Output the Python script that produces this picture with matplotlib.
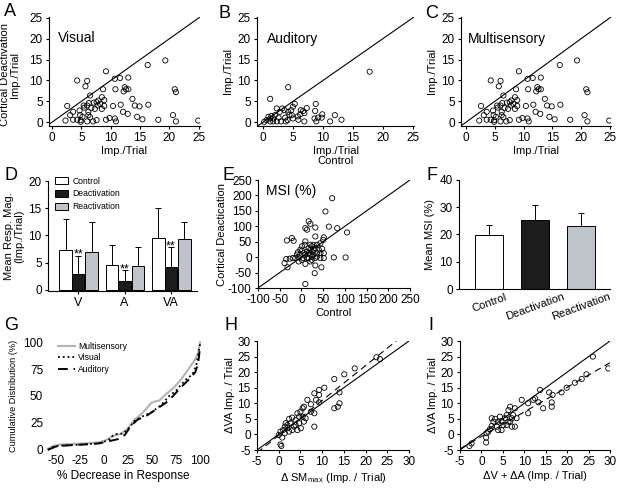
import matplotlib
matplotlib.use("Agg")
import matplotlib.pyplot as plt
from matplotlib.patches import Patch

plt.rcParams['font.family'] = ['Liberation Sans', 'DejaVu Sans']
plt.rcParams['axes.unicode_minus'] = False

# ---------------- DATA ----------------
# Panel A: Visual (control x, deactivation y)
vis_ctrl = [2.3, 2.6, 3.1, 3.6, 3.6, 4.3, 4.3, 4.8, 4.9, 4.9, 5.2, 5.4, 5.7, 6.0, 6.5, 6.0, 6.3,
            6.2, 6.2, 6.5, 6.0, 7.0, 6.7, 7.1, 7.6, 7.6, 7.8, 7.9, 8.2, 8.5, 8.9, 8.7, 8.9, 9.2,
            9.2, 9.8, 10.4, 10.7, 10.8, 10.7, 10.9, 11.6, 11.7, 12.1, 12.2, 12.4, 12.6, 12.9, 13.0,
            13.0, 13.7, 14.1, 14.5, 14.9, 15.4, 16.3, 16.4, 18.1, 19.3, 20.6, 20.9, 21.1, 21.1,
            24.9, 7.3, 5.5, 4.7, 8.5]
vis_deact = [0.4, 3.9, 1.7, 2.5, 0.6, 0.6, 10.0, 1.7, 0.1, 0.5, 1.3, 4.0, 8.6, 9.9, 6.4, 4.0, 4.6,
             2.5, 1.7, 1.2, 0.2, 0.2, 3.4, 4.7, 4.8, 0.5, 4.0, 5.2, 4.4, 6.0, 3.9, 7.9, 5.3, 12.2,
             0.6, 1.0, 3.9, 10.4, 7.9, 0.9, 0.2, 10.6, 4.2, 2.5, 7.4, 8.4, 7.9, 2.0, 7.9,
             10.7, 5.6, 4.0, 1.3, 3.8, 0.7, 13.7, 4.2, 0.6, 14.8, 1.7, 7.9, 7.2, 0.2,
             0.4, 3.2, 3.5, 2.8, 3.2]

# Panel B: Auditory
aud_ctrl = [17.8, 4.2, 1.2, 0.2, 0.6, 0.9, 1.2, 1.2, 1.4, 1.7, 1.7, 2.0, 2.3, 2.3, 2.6, 2.8, 3.0,
            3.2, 3.6, 3.7, 3.8, 4.1, 4.2, 4.4, 4.7, 4.8, 5.0, 5.3, 5.0, 5.8, 5.9, 6.2, 6.3, 6.7,
            6.9, 6.9, 7.3, 8.7, 8.8, 8.6, 8.9, 9.2, 9.8, 9.9, 11.2, 12.0, 13.1]
aud_deact = [12.1, 8.4, 5.6, 0.1, 0.5, 1.3, 0.9, 0.2, 1.5, 0.9, 0.2, 1.7, 3.3, 0.2, 1.1, 2.5, 0.2,
             3.3, 2.9, 1.1, 0.2, 0.5, 2.5, 1.8, 2.9, 1.7, 3.7, 4.4, 0.9, 1.4, 0.6, 1.9, 2.9, 2.7,
             2.2, 0.2, 3.4, 2.7, 4.4, 0.9, 0.2, 1.1, 1.1, 1.9, 0.2, 1.7, 0.6]

# Panel C: Multisensory
multi_ctrl = [2.3, 2.6, 3.1, 3.6, 3.6, 4.3, 4.3, 4.8, 4.9, 4.9, 5.2, 5.4, 5.7, 6.0, 6.5, 6.0, 6.3,
              6.2, 6.2, 6.5, 6.0, 7.0, 6.7, 7.1, 7.6, 7.6, 7.8, 7.9, 8.2, 8.5, 8.9, 8.7, 8.9, 9.2,
              9.2, 9.8, 10.4, 10.7, 10.8, 10.7, 10.9, 11.6, 11.7, 12.1, 12.2, 12.4, 12.6, 12.9, 13.0,
              13.0, 13.7, 14.1, 14.5, 14.9, 15.4, 16.3, 16.4, 18.1, 19.3, 20.6, 20.9, 21.1, 21.1,
              24.9, 7.3, 5.5, 4.7, 8.5]
multi_deact = [0.4, 3.9, 1.7, 2.5, 0.6, 0.6, 10.0, 1.7, 0.1, 0.5, 1.3, 4.0, 8.6, 9.9, 6.4, 4.0, 4.6,
               2.5, 1.7, 1.2, 0.2, 0.2, 3.4, 4.7, 4.8, 0.5, 4.0, 5.2, 4.4, 6.0, 3.9, 7.9, 5.3, 12.2,
               0.6, 1.0, 3.9, 10.4, 7.9, 0.9, 0.2, 10.6, 4.2, 2.5, 7.4, 8.4, 7.9, 2.0, 7.9,
               10.7, 5.6, 4.0, 1.3, 3.8, 0.7, 13.7, 4.2, 0.6, 14.8, 1.7, 7.9, 7.2, 0.2,
               0.4, 3.2, 3.5, 2.8, 3.2]

# Panel D: mean response magnitude
d_groups = ['V', 'A', 'VA']
d_conditions = ['Control', 'Deactivation', 'Reactivation']
d_means = {'Control': [7.4, 4.6, 9.6], 'Deactivation': [3.0, 1.6, 4.2], 'Reactivation': [7.0, 4.4, 9.3]}
d_sd = {'Control': [5.6, 3.6, 5.5], 'Deactivation': [3.3, 2.0, 3.6], 'Reactivation': [5.5, 3.4, 3.2]}
d_sig = ['**', '**', '**']

# Panel E: MSI (%)
msi_ctrl = [70.8, 55.3, 63.1, 82.4, 105, 16.7, 20.6, 9.0, 12.8, 32, 32, 51.5, 50, 43.7, 36, 32, 28,
            20.6, 9, 7.4, 16.7, 20.6, 24.4, 12.8, 1.2, -2.6, 1.2, 5.1, 9, -2.6, -6.5, -10.4, -8, -20,
            -14, -27, -35, -39, -32, -33.5, -22, -18, 32, 43.7, 51.5, 43.7, 51.5, 47.6, 46, 32, 30.6,
            24, 20.6, 9, 16.7, 24, 28, 36, 40, 9, 74.6, 101.7, 12.8, 5, 1.2, -6.5, 16.7, 28, 24, 36, 20.6]
msi_deact = [191, 148, 99, 94, 80, 116, 108, 94, 89, 96, 67, 64, 56, 45, 40, 29, 40,
             40, 51, 40, 29, 24, 18, 18, 35, 24, 21, 13, 8, 8, -1, 8, 16, -3,
             -3, -5, -6, -19, -33, 54, 62, 53, -3, -3, -3, 13, 13, 27, -33, -27, -52,
             -9, -14, -22, -3, 2, 8, 13, 24, -87, -1, -1, -3, -3, -9, -14, 13, 24, 35, 2, 8]

# Panel F: mean MSI
f_conditions = ['Control', 'Deactivation', 'Reactivation']
f_means = [19.8, 25.4, 23.1]
f_sd = [3.7, 5.4, 4.8]

# Panel G: cumulative distributions of % decrease in response
g_multi_x = [-58, -52, -45, -20, -5, 2, 10, 18, 25, 32, 40, 50, 58, 65, 72, 80, 88, 95, 98, 100]
g_multi_y = [1, 4, 5, 6, 7, 9, 13, 15, 20, 28, 34, 44, 46, 52, 57, 65, 75, 84, 90, 100]
g_vis_x = [-58, -52, -45, -20, -5, 5, 10, 15, 20, 25, 32, 40, 50, 60, 68, 75, 85, 92, 96, 100]
g_vis_y = [0, 3, 4, 5, 6, 9, 14, 15, 15, 19, 27, 31, 35, 42, 50, 55, 65, 70, 78, 98]
g_aud_x = [-58, -50, -40, -20, -5, 5, 15, 22, 28, 35, 45, 55, 65, 72, 80, 88, 95, 98, 100]
g_aud_y = [0, 3, 4, 5, 6, 8, 10, 14, 22, 28, 32, 38, 44, 50, 58, 65, 72, 80, 95]

# Panel H: dSMmax vs dVA
h_x = [22.5, 23.3, 17.5, 15.1, 12.8, 10.5, 9.3, 9.3, 8.2, 8.6, 9.3, 7.4, 6.6, 5.8, 5.5, 5.0, 4.3,
       4.7, 3.9, 3.1, 2.4, 2.7, 2.0, 1.4, 1.0, 0.4, 1.4, 2.0, 3.5, 4.3, 5.1, 5.8, 6.2, 8.2, 8.2,
       12.8, 13.6, 14.0, 14.0, 0.4, 0.6, 0.8, 0.0, 1.6, 4.7, 5.5, 7.4, 3.1, 2.4, 3.9]
h_y = [24.8, 24.2, 21.2, 19.3, 17.8, 15.0, 14.3, 12.7, 13.2, 11.1, 10.3, 9.7, 11.1, 8.9, 8.4, 7.3, 6.8,
       5.7, 4.6, 5.4, 5.0, 3.6, 3.0, 2.5, 1.4, 0.9, 0.4, 2.0, 2.5, 1.4, 2.0, 4.1, 5.2, 2.5, 6.8,
       8.4, 8.9, 10.0, 13.5, -3.2, -3.7, -1.0, -0.2, 3.6, 3.6, 5.7, 7.3, 1.4, 0.9, 3.0]
h_fit = (1.12, -0.3)   # slope, intercept of dashed regression line

# Panel I: dV + dA vs dVA
i_x = [26.0, 29.6, 24.5, 23.4, 21.8, 19.9, 18.7, 15.8, 16.6, 13.7, 13.3, 14.4, 16.4, 16.4, 12.1, 12.5,
       10.9, 9.4, 10.9, 7.8, 6.7, 6.3, 7.4, 8.2, 7.8, 7.1, 6.7, 5.9, 5.5, 4.7, 3.9, 3.2, 2.8, 2.4,
       3.6, 4.7, 5.1, 3.9, 2.0, 1.6, 1.2, 1.1, 1.1, -2.3, -2.8, 5.9, 7.1, 6.3, 4.3, 2.4]
i_y = [25.0, 21.2, 19.3, 17.8, 16.6, 15.0, 13.5, 13.5, 12.7, 14.3, 10.3, 8.4, 10.3, 8.9, 11.1, 11.6,
       10.0, 11.1, 6.8, 8.4, 8.9, 7.8, 6.2, 5.2, 2.5, 5.2, 4.1, 6.2, 5.2, 4.3, 4.1, 5.0, 4.1, 2.7,
       2.5, 1.4, 3.0, 1.4, 1.7, 0.9, 0.4, -1.0, -2.6, -2.9, -3.7, 3.0, 2.5, 4.1, 5.7, 5.2]
i_fit = (0.79, -0.67)

# ---------------- STYLE ----------------
W, H = 624, 490
fig = plt.figure(figsize=(W / 100, H / 100), dpi=100)
TICK = 8.5
LAB = 8
COL = {'Control': 'white', 'Deactivation': '#1c1c1c', 'Reactivation': '#bfc3ca'}


def add_ax(l, t, r, b):
    ax = fig.add_axes([l / W, 1 - b / H, (r - l) / W, (b - t) / H])
    for s in ['top', 'right']:
        ax.spines[s].set_visible(False)
    for s in ['left', 'bottom']:
        ax.spines[s].set_linewidth(0.8)
    ax.tick_params(labelsize=TICK, length=2.5, width=0.8, pad=2)
    return ax


def letter(x, y, s):
    fig.text(x / W, 1 - y / H, s, fontsize=13, ha='left', va='center')


def scatter_panel(ax, x, y, lo, hi):
    ax.plot([lo, hi], [lo, hi], color='black', lw=0.8)
    ax.scatter(x, y, s=14, facecolors='none', edgecolors='black', linewidths=0.6, zorder=3)


# ---- A ----
ax = add_ax(49, 17, 200, 126)
scatter_panel(ax, vis_ctrl, vis_deact, -1, 25.3)
ax.set_xlim(-0.5, 25.2); ax.set_ylim(-0.9, 25.2)
ax.set_xticks(range(0, 26, 5)); ax.set_yticks(range(0, 26, 5))
ax.set_xlabel('Imp./Trial', fontsize=LAB, labelpad=1)
ax.set_ylabel('Cortical Deactivation\nImp./Trial', fontsize=LAB, labelpad=3, linespacing=1.0)
ax.yaxis.set_label_coords(-0.19, 0.47)
ax.text(0.06, 0.81, 'Visual', transform=ax.transAxes, fontsize=10, va='center')
letter(4, 11, 'A')

# ---- B ----
ax = add_ax(257, 17, 414, 126)
scatter_panel(ax, aud_ctrl, aud_deact, -1, 25.3)
ax.set_xlim(-1.0, 25.2); ax.set_ylim(-0.9, 25.2)
ax.set_xticks(range(0, 26, 5)); ax.set_yticks(range(0, 26, 5))
ax.set_xlabel('Imp./Trial\nControl', fontsize=LAB, labelpad=1, linespacing=1.0)
ax.set_ylabel('Imp./Trial', fontsize=LAB, labelpad=3)
ax.text(0.064, 0.80, 'Auditory', transform=ax.transAxes, fontsize=10, va='center')
letter(219, 13, 'B')

# ---- C ----
ax = add_ax(461, 17, 611, 126)
scatter_panel(ax, multi_ctrl, multi_deact, -1, 25.3)
ax.set_xlim(-0.87, 25.2); ax.set_ylim(-0.9, 25.2)
ax.set_xticks(range(0, 26, 5)); ax.set_yticks(range(0, 26, 5))
ax.set_xlabel('Imp./Trial', fontsize=LAB, labelpad=1)
ax.set_ylabel('Imp./Trial', fontsize=LAB, labelpad=3)
ax.text(0.047, 0.80, 'Multisensory', transform=ax.transAxes, fontsize=10, va='center')
letter(425, 13, 'C')

# ---- D ----
ax = add_ax(48, 181, 197, 291)
bw = 0.27
offs = [-bw, 0, bw + 0.02]
for k, cond in enumerate(d_conditions):
    xs = [g + offs[k] for g in range(len(d_groups))]
    ax.bar(xs, d_means[cond], width=bw, color=COL[cond], edgecolor='black', linewidth=0.7,
           label=cond, zorder=2)
    ax.errorbar(xs, d_means[cond], yerr=[[0] * 3, d_sd[cond]], fmt='none', ecolor='black',
                elinewidth=0.7, capsize=2.2, capthick=0.7, zorder=1)
for g, s in enumerate(d_sig):
    top = d_means['Deactivation'][g] + d_sd['Deactivation'][g]
    ax.text(g, top - 0.9, s, ha='center', va='bottom', fontsize=9)
ax.set_xlim(-0.65, 2.56); ax.set_ylim(-0.2, 20)
ax.set_xticks(range(3)); ax.set_xticklabels(d_groups, fontsize=9)
ax.set_yticks(range(0, 21, 5))
ax.set_ylabel('Mean Resp. Mag.\n(Imp./Trial)', fontsize=LAB, labelpad=3, linespacing=1.0)
handles = [Patch(facecolor=COL[c], edgecolor='black', linewidth=0.7) for c in d_conditions]
ax.legend(handles, d_conditions, loc='upper left', bbox_to_anchor=(0.05, 1.04), frameon=False,
          fontsize=6.2, handlelength=1.4, handleheight=0.9, labelspacing=0.45,
          handletextpad=0.6, borderaxespad=0, borderpad=0)
letter(4, 175, 'D')

# ---- E ----
ax = add_ax(258, 180, 410, 288)
scatter_panel(ax, msi_ctrl, msi_deact, -100, 250)
ax.set_xlim(-100, 250); ax.set_ylim(-100, 250)
ax.set_xticks(range(-100, 251, 50)); ax.set_yticks(range(-100, 251, 50))
ax.set_xlabel('Control', fontsize=LAB, labelpad=1)
ax.set_ylabel('Cortical Deactication', fontsize=LAB, labelpad=1)
ax.text(0.05, 0.90, 'MSI (%)', transform=ax.transAxes, fontsize=10, va='center')
letter(222, 175, 'E')

# ---- F ----
ax = add_ax(459, 180, 610, 289)
xs = list(range(len(f_conditions)))
ax.bar(xs, f_means, width=0.6, color=[COL[c] for c in f_conditions], edgecolor='black',
       linewidth=0.7, zorder=2)
ax.errorbar(xs, f_means, yerr=[[0] * 3, f_sd], fmt='none', ecolor='black', elinewidth=0.7,
            capsize=2.2, capthick=0.7, zorder=1)
ax.set_xlim(-0.65, 2.63); ax.set_ylim(0, 40)
ax.set_yticks(range(0, 41, 10))
ax.set_xticks(xs); ax.set_xticklabels(f_conditions, rotation=20, ha='center', fontsize=LAB)
ax.tick_params(axis='x', length=0)
ax.set_ylabel('Mean MSI (%)', fontsize=LAB, labelpad=3)
letter(427, 175, 'F')

# ---- G ----
ax = add_ax(46, 340, 201, 452)
ax.plot(g_multi_x, g_multi_y, color='#b4b4b4', lw=1.5, label='Multisensory')
ax.plot(g_vis_x, g_vis_y, color='black', lw=1.3, ls=':', label='Visual')
ax.plot(g_aud_x, g_aud_y, color='black', lw=1.4, ls=(0, (5, 3)), label='Auditory')
ax.set_xlim(-60, 101); ax.set_ylim(-2, 102)
ax.set_xticks(range(-50, 101, 25)); ax.set_yticks(range(0, 101, 25))
for s in ['left', 'bottom']:
    ax.spines[s].set_visible(False)
ax.tick_params(length=0)
ax.set_xlabel('% Decrease in Response', fontsize=8.5, labelpad=2)
ax.set_ylabel('Cumulative Distribution (%)', fontsize=6.6, labelpad=4)
ax.legend(loc='upper left', bbox_to_anchor=(0.08, 0.98), frameon=False, fontsize=6.2,
          handlelength=1.9, labelspacing=0.25, handletextpad=0.4, borderaxespad=0, borderpad=0)
letter(4, 325, 'G')

# ---- H ----
ax = add_ax(257, 341, 409, 450)
ax.plot([-5, 30], [-5, 30], color='black', lw=0.8)
ax.plot([-5, 30], [h_fit[0] * v + h_fit[1] for v in (-5, 30)], color='black', lw=0.8,
        ls=(0, (6, 4)))
ax.scatter(h_x, h_y, s=14, facecolors='none', edgecolors='black', linewidths=0.6, zorder=3)
ax.set_xlim(-5, 30); ax.set_ylim(-5, 30)
ax.set_xticks(range(-5, 31, 5)); ax.set_yticks(range(-5, 31, 5))
ax.set_xlabel('Δ SM$_{\\mathregular{max}}$ (Imp. / Trial)', fontsize=LAB, labelpad=2)
ax.set_ylabel('ΔVA Imp. / Trial', fontsize=LAB, labelpad=2)
letter(224, 325, 'H')

# ---- I ----
ax = add_ax(460, 341, 610, 450)
ax.plot([-5, 30], [-5, 30], color='black', lw=0.8)
ax.plot([-5, 30], [i_fit[0] * v + i_fit[1] for v in (-5, 30)], color='black', lw=0.8,
        ls=(0, (6, 4)))
ax.scatter(i_x, i_y, s=14, facecolors='none', edgecolors='black', linewidths=0.6, zorder=3)
ax.set_xlim(-5, 30); ax.set_ylim(-5, 30)
ax.set_xticks(range(-5, 31, 5)); ax.set_yticks(range(-5, 31, 5))
ax.set_xlabel('ΔV + ΔA (Imp. / Trial)', fontsize=LAB, labelpad=2)
ax.set_ylabel('ΔVA Imp. / Trial', fontsize=LAB, labelpad=2)
letter(428, 325, 'I')

fig.savefig('out.png', dpi=100)
